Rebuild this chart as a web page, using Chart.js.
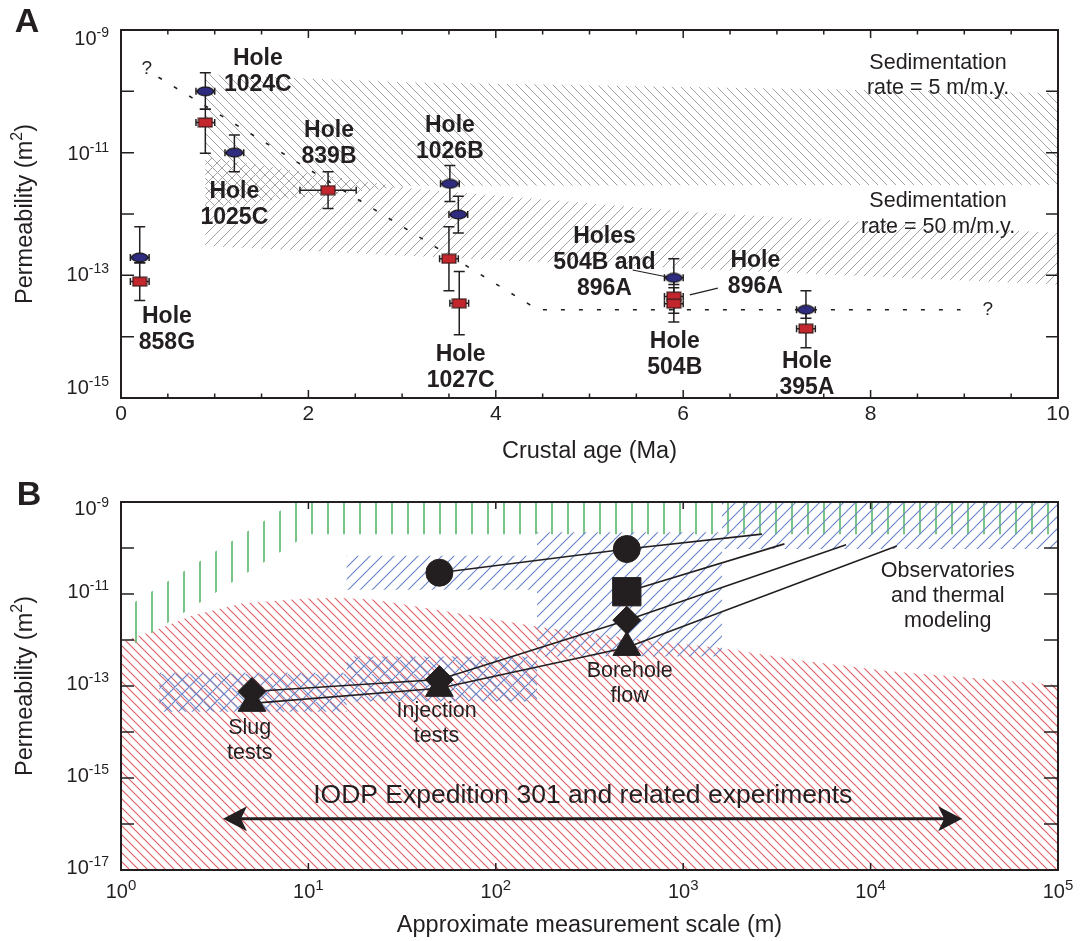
<!DOCTYPE html>
<html><head><meta charset="utf-8">
<script src="https://cdn.jsdelivr.net/npm/chart.js@4"></script>
<style>
body{margin:0;background:#fff;width:1081px;height:941px;position:relative;overflow:hidden}
canvas{position:absolute;left:0}
#cA{top:0}
#cB{top:470px}
</style></head><body>
<canvas id="cA" width="1081" height="470"></canvas>
<canvas id="cB" width="1081" height="471"></canvas>
<script>
// ================= Panel A data =================
const ageTicksA = [0, 2, 4, 6, 8, 10];
const permExpTicksA = [-9, -11, -13, -15];

const blueHoles    = ['858G', '1024C', '1025C', '1026B', '1027C', '504B/896A', '395A'];
const blueAge      = [0.2, 0.9, 1.21, 3.51, 3.60, 5.9, 7.31];
const bluePerm     = [1.95e-13, 1.0e-10, 1.0e-11, 3.1e-12, 9.8e-13, 9.1e-14, 2.75e-14];
const bluePermLow  = [1.6e-13, 5.1e-11, 4.9e-12, 1.6e-12, 4.9e-13, 7.1e-14, 2.0e-14];
const bluePermHigh = [6.2e-13, 2.0e-10, 1.95e-11, 6.2e-12, 1.95e-12, 1.86e-13, 5.6e-14];
const blueAgeErr   = [0.1, 0.1, 0.1, 0.1, 0.1, 0.1, 0.1];

const redHoles    = ['858G', '1024C', '839B', '1026B', '1027C', '896A', '504B', '395A'];
const redAge      = [0.2, 0.9, 2.21, 3.50, 3.61, 5.9, 5.9, 7.31];
const redPerm     = [7.9e-14, 3.1e-11, 2.45e-12, 1.86e-13, 3.5e-14, 4.5e-14, 3.45e-14, 1.35e-14];
const redPermLow  = [3.9e-14, 9.8e-12, 1.23e-12, 5.6e-14, 1.07e-14, 2.4e-14, 1.74e-14, 6.6e-15];
const redPermHigh = [1.6e-13, 5.1e-11, 4.9e-12, 6.2e-13, 1.15e-13, 8.9e-14, 6.3e-14, 2.75e-14];
const redAgeErr   = [0.1, 0.1, 0.3, 0.1, 0.1, 0.1, 0.1, 0.1];

// sedimentation-rate envelopes (polygons)
const band5Age   = [0.9, 3.0, 10, 10, 3.1, 0.9, 0.9];
const band5Perm  = [1.9e-10, 1.41e-10, 9.3e-11, 3.0e-12, 2.9e-12, 1.29e-12, 1.9e-10];
const band50Age  = [0.9, 3.1, 6.2, 10, 10, 4.4, 0.9, 0.9];
const band50Perm = [8.5e-12, 2.6e-12, 1.05e-12, 4.9e-13, 7.1e-14, 1.66e-13, 3.0e-13, 8.5e-12];

// inferred trend (dotted)
const trendAge  = [0.4, 4.45, 8.96];
const trendPerm = [1.7e-10, 2.75e-14, 2.75e-14];

// ================= Panel B data =================
const scaleExpTicksB = [0, 1, 2, 3, 4, 5];
const permExpTicksB  = [-9, -11, -13, -15, -17];

const circleScale   = [50, 500, 2630];
const circlePerm    = [2.9e-11, 9.5e-11, 2.0e-10];
const squareScale   = [500, 3470];
const squarePerm    = [1.12e-11, 1.23e-10];
const diamondScale  = [5, 50, 500, 7400];
const diamondPerm   = [7.6e-14, 1.38e-13, 2.7e-12, 1.17e-10];
const triangleScale = [5, 50, 500, 13800];
const trianglePerm  = [4.2e-14, 8.9e-14, 6.9e-13, 1.1e-10];

// red envelope (upper bound, filled to bottom)
const rockScale = [1, 1.5, 2.4, 4.4, 9.3, 14, 22, 35, 71, 174, 562, 1620, 4470, 12600, 1e5, 1e5, 1, 1];
const rockPerm  = [9.1e-13, 1.58e-12, 3.4e-12, 6.2e-12, 7.9e-12, 8.3e-12, 7.6e-12, 5.6e-12, 3.5e-12, 1.9e-12, 1.05e-12, 6.6e-13, 3.5e-13, 2.1e-13, 1.05e-13, 1e-17, 1e-17, 9.1e-13];
// green band
const greenScale = [1, 10, 1e5, 1e5, 8.4, 1, 1];
const greenPerm  = [5.4e-13, 2.0e-10, 2.0e-10, 1e-9, 1e-9, 4.3e-12, 5.4e-13];
// blue boxes [scale range], [perm range]
const slugBoxScale = [1.6, 16],   slugBoxPerm = [2.75e-14, 1.95e-13];
const injBoxScale  = [16, 166],   injBoxPerm  = [4.6e-14, 4.4e-13];
const injHiScale   = [16, 166],   injHiPerm   = [1.23e-11, 6.8e-11];
const boreBoxScale = [166, 1610], boreBoxPerm = [4.4e-13, 2.2e-10];
const obsBoxScale  = [1610, 1e5], obsBoxPerm  = [9.5e-11, 1e-9];
// double arrow
const arrowScale = [3.5, 30800];
const arrowPerm  = 1.3e-16;

// ================= styles / helpers =================
const C = '#231f20';
const FONT = '"Liberation Sans", Arial, Helvetica, sans-serif';
const labelShiftA = {'-9': 15, '-11': 7, '-13': 6, '-15': -4};
const labelShiftB = {'-9': 13, '-11': 4, '-13': 4, '-15': 4, '-17': 4};

function mkCanvas(w, h, draw) { const c = document.createElement('canvas'); c.width = w; c.height = h; draw(c.getContext('2d'), w, h); return c; }
const blueEllipse = mkCanvas(19, 11, (g, w, h) => { g.beginPath(); g.ellipse(w/2, h/2, 8.2, 4.3, 0, 0, Math.PI*2); g.fillStyle = '#2f2b7f'; g.fill(); g.lineWidth = 1.2; g.strokeStyle = '#151515'; g.stroke(); });
const redRect = mkCanvas(16, 11, (g, w, h) => { g.fillStyle = '#c4262e'; g.fillRect(1, 1, w-2, h-2); g.lineWidth = 1.2; g.strokeStyle = '#3b1b1b'; g.strokeRect(1.1, 1.1, w-2.2, h-2.2); });

function hatch(color, s, kind, lw) {
  const c = document.createElement('canvas'); c.width = s; c.height = s;
  const g = c.getContext('2d'); g.strokeStyle = color; g.lineWidth = lw; g.beginPath();
  if (kind === '/' || kind === 'x') { g.moveTo(0, s); g.lineTo(s, 0); g.moveTo(-s, s); g.lineTo(s, -s); g.moveTo(0, 2*s); g.lineTo(2*s, 0); }
  if (kind === '\\' || kind === 'x') { g.moveTo(0, 0); g.lineTo(s, s); g.moveTo(-s, 0); g.lineTo(s, 2*s); g.moveTo(0, -s); g.lineTo(2*s, s); }
  if (kind === '|') { g.moveTo(s/2, 0); g.lineTo(s/2, s); }
  g.stroke();
  return g.createPattern(c, 'repeat');
}
const pts = (xs, ys) => xs.map((v, i) => ({x: v, y: Array.isArray(ys) ? ys[i] : ys}));
const boxPts = (xs, ys) => pts([xs[0], xs[1], xs[1], xs[0], xs[0]], [ys[0], ys[0], ys[1], ys[1], ys[0]]);

function powLabel(ctx, exp, x, y, align, bf, ef, rise) {
  ctx.font = bf; const wb = ctx.measureText('10').width;
  ctx.font = ef; const we = ctx.measureText(String(exp)).width;
  const tot = wb + we;
  const x0 = align === 'right' ? x - tot : x - tot/2;
  ctx.textAlign = 'left'; ctx.textBaseline = 'alphabetic'; ctx.fillStyle = C;
  ctx.font = bf; ctx.fillText('10', x0, y);
  ctx.font = ef; ctx.fillText(String(exp), x0 + wb, y - rise);
}
function lines(ctx, arr, x, y, font, lh) {
  ctx.font = font; ctx.fillStyle = C; ctx.textAlign = 'center'; ctx.textBaseline = 'middle';
  const n = arr.length; arr.forEach((l, i) => ctx.fillText(l, x, y + (i - (n-1)/2) * lh));
}
function yTitle(ctx, cx, cy) {
  ctx.save(); ctx.translate(cx, cy); ctx.rotate(-Math.PI/2);
  const f1 = '23.5px ' + FONT, f2 = '16px ' + FONT;
  ctx.font = f1; const a = 'Permeability (m', wa = ctx.measureText(a).width, wb = ctx.measureText(')').width;
  ctx.font = f2; const ws = ctx.measureText('2').width;
  const x0 = -(wa + ws + wb)/2;
  ctx.fillStyle = C; ctx.textAlign = 'left'; ctx.textBaseline = 'alphabetic';
  ctx.font = f1; ctx.fillText(a, x0, 8);
  ctx.font = f2; ctx.fillText('2', x0 + wa, -2);
  ctx.font = f1; ctx.fillText(')', x0 + wa + ws, 8);
  ctx.restore();
}
function drawErr(chart, ds) {
  const xs = chart.scales.x, ys = chart.scales.y, ctx = chart.ctx;
  ctx.save(); ctx.strokeStyle = C; ctx.lineWidth = 1.5;
  ds.data.forEach((p, i) => {
    const px = xs.getPixelForValue(p.x), py = ys.getPixelForValue(p.y);
    const lo = ys.getPixelForValue(ds.errLow[i]), hi = ys.getPixelForValue(ds.errHigh[i]);
    const xl = xs.getPixelForValue(p.x - ds.errX[i]), xr = xs.getPixelForValue(p.x + ds.errX[i]);
    ctx.beginPath();
    ctx.moveTo(px, hi); ctx.lineTo(px, lo);
    ctx.moveTo(px - 5.5, hi); ctx.lineTo(px + 5.5, hi);
    ctx.moveTo(px - 5.5, lo); ctx.lineTo(px + 5.5, lo);
    ctx.moveTo(xl, py); ctx.lineTo(xr, py);
    ctx.moveTo(xl, py - 3.5); ctx.lineTo(xl, py + 3.5);
    ctx.moveTo(xr, py - 3.5); ctx.lineTo(xr, py + 3.5);
    ctx.stroke();
  });
  ctx.restore();
}

// ================= annotations (anchors in data units) =================
const labelsA = [
  {t: ['Hole', '1024C'], x: 1.46, y: 2.1e-10},
  {t: ['Hole', '839B'], x: 2.22, y: 1.41e-11},
  {t: ['Hole', '1025C'], x: 1.21, y: 1.43e-12},
  {t: ['Hole', '1026B'], x: 3.51, y: 1.71e-11},
  {t: ['Hole', '858G'], x: 0.49, y: 1.29e-14},
  {t: ['Hole', '1027C'], x: 3.625, y: 3.1e-15},
  {t: ['Holes', '504B and', '896A'], x: 5.16, y: 1.58e-13},
  {t: ['Hole', '896A'], x: 6.77, y: 1.05e-13},
  {t: ['Hole', '504B'], x: 5.91, y: 5.1e-15},
  {t: ['Hole', '395A'], x: 7.32, y: 2.37e-15}
];
const notesA = [
  {t: ['Sedimentation', 'rate = 5 m/m.y.'], x: 8.72, y: 1.81e-10},
  {t: ['Sedimentation', 'rate = 50 m/m.y.'], x: 8.72, y: 1.0e-12},
  {t: ['?'], x: 0.274, y: 2.37e-10},
  {t: ['?'], x: 9.25, y: 2.75e-14}
];
const leadersA = [
  {x: [5.46, 5.83], y: [1.22e-13, 9.4e-14]},
  {x: [6.07, 6.37], y: [4.8e-14, 6.2e-14]}
];
const labelsB = [
  {t: ['Slug', 'tests'], x: 4.86, y: 6.4e-15},
  {t: ['Injection', 'tests'], x: 48.3, y: 1.55e-14},
  {t: ['Borehole', 'flow'], x: 518, y: 1.11e-13},
  {t: ['Observatories', 'and thermal', 'modeling'], x: 25800, y: 8.9e-12}
];
const titleB = {t: 'IODP Expedition 301 and related experiments', x: 291, y: 4.2e-16};

// ================= Chart A =================
const decorA = {
  id: 'decorA',
  beforeDatasetDraw(chart, args) { const ds = chart.data.datasets[args.index]; if (ds.errX) drawErr(chart, ds); },
  afterDatasetsDraw(chart) {
    const ctx = chart.ctx, a = chart.chartArea, xs = chart.scales.x, ys = chart.scales.y;
    ctx.save();
    ctx.strokeStyle = C; ctx.lineWidth = 1.2;
    leadersA.forEach(l => { ctx.beginPath(); ctx.moveTo(xs.getPixelForValue(l.x[0]), ys.getPixelForValue(l.y[0])); ctx.lineTo(xs.getPixelForValue(l.x[1]), ys.getPixelForValue(l.y[1])); ctx.stroke(); });
    ctx.lineWidth = 2; ctx.strokeStyle = C;
    ctx.strokeRect(a.left, a.top, a.right - a.left, a.bottom - a.top);
    ctx.lineWidth = 1.5; ctx.beginPath();
    for (let e = -9; e >= -15; e--) {
      const y = ys.getPixelForValue(Math.pow(10, e));
      ctx.moveTo(a.left, y); ctx.lineTo(a.left + 13, y);
      ctx.moveTo(a.right, y); ctx.lineTo(a.right - 12, y);
    }
    for (let v = 0; v <= 10.001; v += 0.5) {
      const x = xs.getPixelForValue(v), L = (Math.abs(v % 2) < 1e-6) ? 8 : 4.5;
      ctx.moveTo(x, a.bottom); ctx.lineTo(x, a.bottom - L);
      ctx.moveTo(x, a.top); ctx.lineTo(x, a.top + L);
    }
    ctx.stroke();
    permExpTicksA.forEach(e => powLabel(ctx, e, 109, ys.getPixelForValue(Math.pow(10, e)) + labelShiftA[e], 'right', '20px ' + FONT, '14px ' + FONT, 8));
    ctx.font = '21px ' + FONT; ctx.textAlign = 'center'; ctx.textBaseline = 'middle'; ctx.fillStyle = C;
    ageTicksA.forEach(v => ctx.fillText(String(v), xs.getPixelForValue(v), 414));
    ctx.font = '23.5px ' + FONT; ctx.fillText('Crustal age (Ma)', (a.left + a.right)/2, 452);
    yTitle(ctx, 24, (a.top + a.bottom)/2);
    ctx.font = 'bold 34px ' + FONT; ctx.fillText('A', 27, 23);
    labelsA.forEach(l => lines(ctx, l.t, xs.getPixelForValue(l.x), ys.getPixelForValue(l.y), 'bold 23px ' + FONT, 26));
    notesA.forEach(l => lines(ctx, l.t, xs.getPixelForValue(l.x), ys.getPixelForValue(l.y), (l.t.length > 1 ? '21.5px ' : '19px ') + FONT, 25.5));
    ctx.restore();
  }
};

const grayBack = hatch('#a2a2a2', 9, '\\', 1);
const grayFwd = hatch('#a2a2a2', 10, '/', 1);

new Chart(document.getElementById('cA'), {
  type: 'line',
  data: {
    datasets: [
      {label: '5 m/m.y.', data: pts(band5Age, band5Perm), fill: 'shape', backgroundColor: grayBack, borderWidth: 0, pointRadius: 0, tension: 0, order: 10},
      {label: '50 m/m.y.', data: pts(band50Age, band50Perm), fill: 'shape', backgroundColor: grayFwd, borderWidth: 0, pointRadius: 0, tension: 0, order: 9},
      {label: 'trend', data: pts(trendAge, trendPerm), fill: false, borderColor: C, borderWidth: 1.6, borderDash: [4, 14], pointRadius: 0, tension: 0, order: 5},
      {label: 'red', data: pts(redAge, redPerm), showLine: false, pointStyle: redRect, pointRadius: 5, errLow: redPermLow, errHigh: redPermHigh, errX: redAgeErr, order: 3},
      {label: 'blue', data: pts(blueAge, bluePerm), showLine: false, pointStyle: blueEllipse, pointRadius: 5, errLow: bluePermLow, errHigh: bluePermHigh, errX: blueAgeErr, order: 2}
    ]
  },
  options: {
    responsive: false, animation: false, events: [],
    layout: {padding: {top: 30, right: 23, left: 0, bottom: 0}},
    plugins: {legend: {display: false}, tooltip: {enabled: false}},
    scales: {
      x: {type: 'linear', min: 0, max: 10, ticks: {display: false}, grid: {display: false}, border: {display: false}, afterFit(s) { s.height = 72; }},
      y: {type: 'logarithmic', min: 1e-15, max: 1e-9, ticks: {display: false}, grid: {display: false}, border: {display: false}, afterFit(s) { s.width = 121; }}
    }
  },
  plugins: [decorA]
});

// ================= Chart B =================
const decorB = {
  id: 'decorB',
  afterDatasetsDraw(chart) {
    const ctx = chart.ctx, a = chart.chartArea, xs = chart.scales.x, ys = chart.scales.y;
    ctx.save();
    labelsB.forEach(l => lines(ctx, l.t, xs.getPixelForValue(l.x), ys.getPixelForValue(l.y), '21.5px ' + FONT, 25));
    lines(ctx, [titleB.t], xs.getPixelForValue(titleB.x), ys.getPixelForValue(titleB.y), '26.5px ' + FONT, 0);
    const x1 = xs.getPixelForValue(arrowScale[0]), x2 = xs.getPixelForValue(arrowScale[1]), y = ys.getPixelForValue(arrowPerm);
    ctx.strokeStyle = C; ctx.fillStyle = C; ctx.lineWidth = 3;
    ctx.beginPath(); ctx.moveTo(x1 + 12, y); ctx.lineTo(x2 - 12, y); ctx.stroke();
    ctx.beginPath(); ctx.moveTo(x1, y); ctx.lineTo(x1 + 24, y - 12.5); ctx.lineTo(x1 + 18, y); ctx.lineTo(x1 + 24, y + 12.5); ctx.closePath(); ctx.fill();
    ctx.beginPath(); ctx.moveTo(x2, y); ctx.lineTo(x2 - 24, y - 12.5); ctx.lineTo(x2 - 18, y); ctx.lineTo(x2 - 24, y + 12.5); ctx.closePath(); ctx.fill();
    ctx.lineWidth = 2; ctx.strokeRect(a.left, a.top, a.right - a.left, a.bottom - a.top);
    ctx.lineWidth = 1.5; ctx.beginPath();
    for (let e = -9; e >= -17; e--) {
      const yy = ys.getPixelForValue(Math.pow(10, e));
      ctx.moveTo(a.left, yy); ctx.lineTo(a.left + 13, yy);
      ctx.moveTo(a.right, yy); ctx.lineTo(a.right - 14, yy);
    }
    for (let e = 0; e <= 5; e++) {
      const xx = xs.getPixelForValue(Math.pow(10, e));
      ctx.moveTo(xx, a.bottom); ctx.lineTo(xx, a.bottom - 7);
      ctx.moveTo(xx, a.top); ctx.lineTo(xx, a.top + 7);
    }
    ctx.stroke();
    permExpTicksB.forEach(e => powLabel(ctx, e, 109, ys.getPixelForValue(Math.pow(10, e)) + labelShiftB[e], 'right', '20px ' + FONT, '14px ' + FONT, 8));
    scaleExpTicksB.forEach(e => powLabel(ctx, e, xs.getPixelForValue(Math.pow(10, e)), 428, 'center', '20px ' + FONT, '15px ' + FONT, 8));
    ctx.font = '23.5px ' + FONT; ctx.fillStyle = C; ctx.textAlign = 'center'; ctx.textBaseline = 'middle';
    ctx.fillText('Approximate measurement scale (m)', (a.left + a.right)/2, 456);
    yTitle(ctx, 24, (a.top + a.bottom)/2);
    ctx.font = 'bold 34px ' + FONT; ctx.fillText('B', 29, 26);
    ctx.restore();
  }
};

const redHatch = hatch('#e06468', 9, '\\', 1.2);
const greenHatch = hatch('#62ba72', 16, '|', 1.7);
const blueFwd = hatch('#6d89c9', 12, '/', 1.2);
const blueX = hatch('#6d89c9', 14, 'x', 1.2);
const blk = (label, xs, ys, radii, style, order) => ({label, data: pts(xs, ys), showLine: true, fill: false, borderColor: C, borderWidth: 1.6, tension: 0,
  pointStyle: style, pointRadius: radii, pointBackgroundColor: C, pointBorderColor: C, pointBorderWidth: 1, order});

new Chart(document.getElementById('cB'), {
  type: 'line',
  data: {
    datasets: [
      {label: 'rock', data: pts(rockScale, rockPerm), fill: 'shape', backgroundColor: redHatch, borderWidth: 0, pointRadius: 0, tension: 0, order: 30},
      {label: 'green', data: pts(greenScale, greenPerm), fill: 'shape', backgroundColor: greenHatch, borderWidth: 0, pointRadius: 0, tension: 0, order: 29},
      {label: 'slug box', data: boxPts(slugBoxScale, slugBoxPerm), fill: 'shape', backgroundColor: blueX, borderWidth: 0, pointRadius: 0, order: 25},
      {label: 'inj box', data: boxPts(injBoxScale, injBoxPerm), fill: 'shape', backgroundColor: blueX, borderWidth: 0, pointRadius: 0, order: 25},
      {label: 'inj hi box', data: boxPts(injHiScale, injHiPerm), fill: 'shape', backgroundColor: blueFwd, borderWidth: 0, pointRadius: 0, order: 25},
      {label: 'bore box', data: boxPts(boreBoxScale, boreBoxPerm), fill: 'shape', backgroundColor: blueFwd, borderWidth: 0, pointRadius: 0, order: 25},
      {label: 'obs box', data: boxPts(obsBoxScale, obsBoxPerm), fill: 'shape', backgroundColor: blueFwd, borderWidth: 0, pointRadius: 0, order: 25},
      blk('triangle', triangleScale, trianglePerm, [16, 16, 16, 0], 'triangle', 5),
      blk('diamond', diamondScale, diamondPerm, [14, 14, 14, 0], 'rectRot', 4),
      blk('square', squareScale, squarePerm, [20, 0], 'rect', 3),
      blk('circle', circleScale, circlePerm, [13.5, 13.5, 0], 'circle', 2)
    ]
  },
  options: {
    responsive: false, animation: false, events: [],
    layout: {padding: {top: 32, right: 23, left: 0, bottom: 0}},
    plugins: {legend: {display: false}, tooltip: {enabled: false}},
    scales: {
      x: {type: 'logarithmic', min: 1, max: 1e5, ticks: {display: false}, grid: {display: false}, border: {display: false}, afterFit(s) { s.height = 71; }},
      y: {type: 'logarithmic', min: 1e-17, max: 1e-9, ticks: {display: false}, grid: {display: false}, border: {display: false}, afterFit(s) { s.width = 121; }}
    }
  },
  plugins: [decorB]
});
</script></body></html>
